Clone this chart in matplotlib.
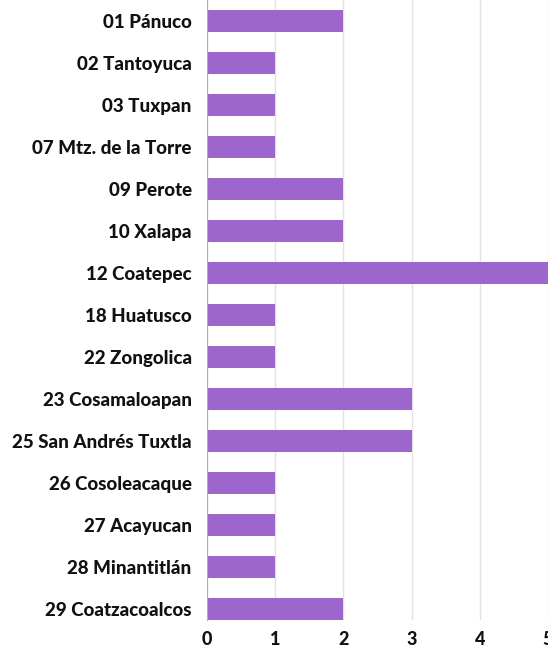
import matplotlib

matplotlib.use("Agg")
import matplotlib.pyplot as plt

districts = [
    "01 Pánuco", "02 Tantoyuca", "03 Tuxpan", "07 Mtz. de la Torre",
    "09 Perote", "10 Xalapa", "12 Coatepec", "18 Huatusco", "22 Zongolica",
    "23 Cosamaloapan", "25 San Andrés Tuxtla", "26 Cosoleacaque",
    "27 Acayucan", "28 Minantitlán", "29 Coatzacoalcos",
]
counts = [2, 1, 1, 1, 2, 2, 5, 1, 1, 3, 3, 1, 1, 1, 2]
x_ticks = [0, 1, 2, 3, 4, 5]

plt.rcParams["font.family"] = ["Lato", "DejaVu Sans"]

fig = plt.figure(figsize=(5.48, 6.49), dpi=100)
ax = fig.add_axes([207 / 548, 1 - 620 / 649, 1 - 207 / 548, 620 / 649])

ypos = list(range(len(districts)))
ax.barh(ypos, counts, height=0.52, color="#9c66cc", zorder=3)

ax.set_xlim(0, 5)
ax.set_ylim(14.26, -0.5)
ax.set_xticks(x_ticks)
ax.set_xticklabels([str(t) for t in x_ticks], fontsize=13, fontweight="black")
ax.set_yticks(ypos)
ax.set_yticklabels(districts, fontsize=13.5, fontweight="black")
ax.tick_params(axis="both", length=0, colors="#111111")
ax.tick_params(axis="y", pad=11)
ax.tick_params(axis="x", pad=8)

ax.grid(axis="x", color="#e2e2e2", linewidth=1, zorder=0)
for side in ["top", "right", "bottom"]:
    ax.spines[side].set_visible(False)
ax.spines["left"].set_color("#b0b0b0")
ax.spines["left"].set_zorder(4)

fig.savefig("out.png", dpi=100)
